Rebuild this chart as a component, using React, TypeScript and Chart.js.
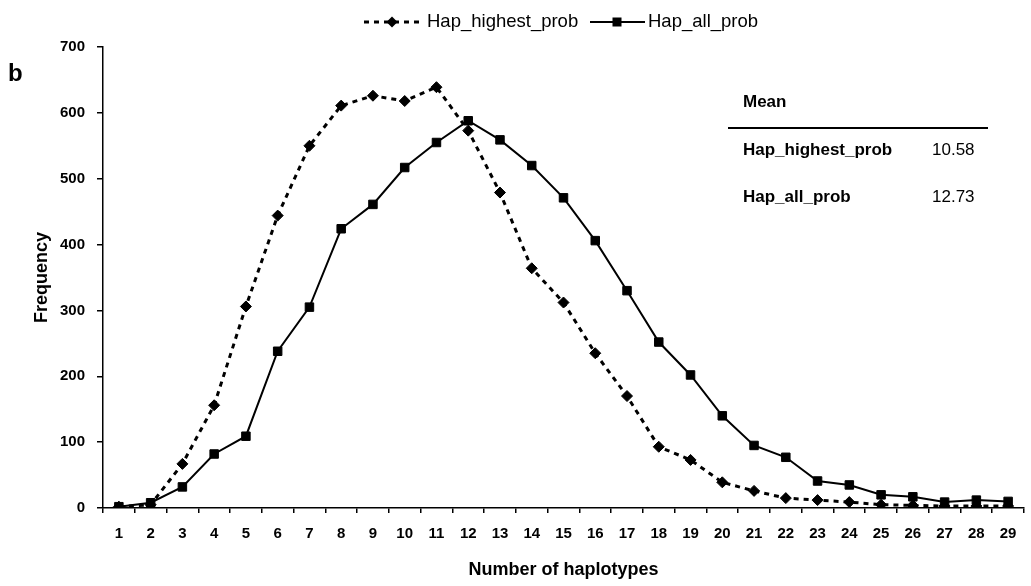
import React, { useEffect, useRef } from "react";
import { Chart, registerables } from "chart.js";

Chart.register(...registerables);

// Number of haplotypes (x categories)
const haplotypeCounts = [
  "1", "2", "3", "4", "5", "6", "7", "8", "9", "10", "11", "12", "13", "14", "15",
  "16", "17", "18", "19", "20", "21", "22", "23", "24", "25", "26", "27", "28", "29",
];

// Frequency counts per series
const hapHighestProb = [
  2, 5, 67, 156, 306, 444, 550, 611, 626, 618, 639, 573, 479, 364, 312,
  235, 170, 93, 73, 39, 26, 15, 12, 9, 5, 4, 3, 3, 3,
];
const hapAllProb = [
  2, 8, 32, 82, 109, 238, 305, 424, 461, 517, 555, 588, 559, 520, 471,
  406, 330, 252, 202, 140, 95, 77, 41, 35, 20, 17, 9, 12, 10,
];

const seriesNames = ["Hap_highest_prob", "Hap_all_prob"];
const meanValues = ["10.58", "12.73"];
const yTickValues = [0, 100, 200, 300, 400, 500, 600, 700];

const FONT = "'Liberation Sans', Arial, Helvetica, sans-serif";

// Draws the panel letter, the legend and the mean table on top of the plot
const annotationsPlugin = {
  id: "annotations",
  afterDraw(chart: any) {
    const ctx: CanvasRenderingContext2D = chart.ctx;
    ctx.save();
    ctx.fillStyle = "#000";
    ctx.strokeStyle = "#000";

    // panel letter
    ctx.font = `bold 24px ${FONT}`;
    ctx.textBaseline = "alphabetic";
    ctx.textAlign = "left";
    ctx.fillText("b", 8, 81);

    // legend
    const ly = 22;
    ctx.lineWidth = 3;
    ctx.setLineDash([5, 5]);
    ctx.beginPath();
    ctx.moveTo(364, ly);
    ctx.lineTo(421, ly);
    ctx.stroke();
    ctx.setLineDash([]);
    ctx.beginPath();
    ctx.moveTo(392 - 5.5, ly);
    ctx.lineTo(392, ly - 5.5);
    ctx.lineTo(392 + 5.5, ly);
    ctx.lineTo(392, ly + 5.5);
    ctx.closePath();
    ctx.fill();

    ctx.lineWidth = 2;
    ctx.beginPath();
    ctx.moveTo(590, ly);
    ctx.lineTo(645, ly);
    ctx.stroke();
    ctx.fillRect(617 - 4.5, ly - 4.5, 9, 9);

    ctx.font = `18.5px ${FONT}`;
    ctx.fillText(seriesNames[0], 427, 27);
    ctx.fillText(seriesNames[1], 648, 27);

    // mean table
    ctx.font = `bold 17px ${FONT}`;
    ctx.fillText("Mean", 743, 107);
    ctx.lineWidth = 2;
    ctx.beginPath();
    ctx.moveTo(728, 128);
    ctx.lineTo(988, 128);
    ctx.stroke();
    ctx.fillText(seriesNames[0], 743, 155);
    ctx.fillText(seriesNames[1], 743, 202);
    ctx.font = `17px ${FONT}`;
    ctx.fillText(meanValues[0], 932, 155);
    ctx.fillText(meanValues[1], 932, 202);

    ctx.restore();
  },
};

export default function App() {
  const canvasRef = useRef<HTMLCanvasElement | null>(null);

  useEffect(() => {
    document.body.style.margin = "0";
    const canvas = canvasRef.current;
    if (!canvas) return;

    const tickFont = { family: FONT, size: 15, weight: "bold" as const };

    const chart = new Chart(canvas, {
      type: "line",
      data: {
        labels: haplotypeCounts,
        datasets: [
          {
            label: seriesNames[0],
            data: hapHighestProb,
            borderColor: "#000",
            backgroundColor: "#000",
            borderWidth: 3,
            borderDash: [5, 5],
            pointStyle: "rectRot",
            pointRadius: 5.5,
            pointBorderWidth: 1,
            pointBorderColor: "#000",
            pointBackgroundColor: "#000",
            tension: 0,
            fill: false,
          },
          {
            label: seriesNames[1],
            data: hapAllProb,
            borderColor: "#000",
            backgroundColor: "#000",
            borderWidth: 2,
            pointStyle: "rect",
            pointRadius: 6,
            pointBorderWidth: 1,
            pointBorderColor: "#000",
            pointBackgroundColor: "#000",
            tension: 0,
            fill: false,
          },
        ],
      },
      options: {
        animation: false,
        responsive: false,
        maintainAspectRatio: false,
        layout: { padding: { top: 47, left: 0, right: 0, bottom: 0 } },
        plugins: {
          legend: { display: false },
          tooltip: { enabled: false },
        },
        scales: {
          x: {
            offset: true,
            grid: {
              offset: true,
              drawOnChartArea: false,
              drawTicks: true,
              tickLength: 5,
              color: "#000",
              lineWidth: 1.5,
            },
            border: { display: true, color: "#000", width: 1.5 },
            ticks: {
              font: tickFont,
              color: "#000",
              padding: 12,
              autoSkip: false,
              maxRotation: 0,
            },
            title: {
              display: true,
              text: "Number of haplotypes",
              color: "#000",
              font: { family: FONT, size: 18, weight: "bold" },
              padding: { top: 0, bottom: 5 },
            },
            afterFit: (scale: any) => {
              scale.height = 78;
            },
          },
          y: {
            min: 0,
            max: 700,
            afterBuildTicks: (scale: any) => {
              scale.ticks = yTickValues.map((v) => ({ value: v }));
            },
            grid: {
              drawOnChartArea: false,
              drawTicks: true,
              tickLength: 6,
              color: "#000",
              lineWidth: 1.5,
            },
            border: { display: true, color: "#000", width: 1.5 },
            ticks: {
              font: tickFont,
              color: "#000",
              padding: 12,
            },
            title: {
              display: true,
              text: "Frequency",
              color: "#000",
              font: { family: FONT, size: 18, weight: "bold" },
              padding: { top: 31, bottom: 0 },
            },
            afterFit: (scale: any) => {
              scale.width = 103;
            },
          },
        },
      },
      plugins: [annotationsPlugin],
    });

    return () => {
      chart.destroy();
    };
  }, []);

  return (
    <div
      style={{
        position: "fixed",
        left: 0,
        top: 0,
        width: 1031,
        height: 586,
        background: "#fff",
      }}
    >
      <canvas ref={canvasRef} width={1031} height={586} />
    </div>
  );
}
